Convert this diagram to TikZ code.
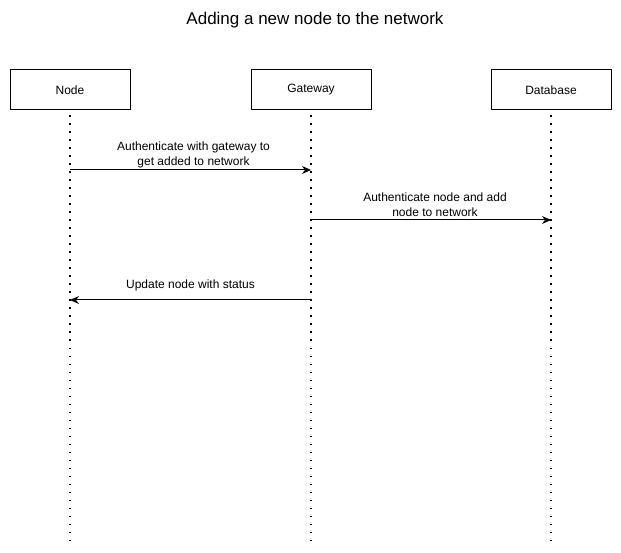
\documentclass[tikz,border=0pt]{standalone}
\usepackage{fontspec}
\setmainfont{Liberation Sans}
\usetikzlibrary{arrows.meta}
\begin{document}
\begin{tikzpicture}[x=1pt,y=-1pt,
  actor/.style={draw,line width=1pt,minimum width=120pt,minimum height=40pt,inner sep=0pt,font=\fontsize{12}{14}\selectfont},
  lifeline/.style={line width=1.6pt,dash pattern=on 1.6pt off 6.4pt},
  msg/.style={line width=1pt,-{Stealth[length=9pt,width=8pt,inset=3pt]}},
  msglabel/.style={font=\fontsize{12}{15}\selectfont,align=center,inner sep=0pt}]
\useasboundingbox (0,0) rectangle (621,553);
\node[font=\fontsize{17}{20}\selectfont] (title) at (315,20) {Adding a new node to the network};
\node[actor] (n) at (70,90) {Node};
\node[actor] (g) at (311,90) {Gateway};
\node[actor] (d) at (551,90) {Database};
\coordinate (ne) at (70,541);
\coordinate (ge) at (311,541);
\coordinate (de) at (551,541);
\draw[lifeline] ([yshift=-5pt]n.south) -- (ne);
\draw[lifeline] ([yshift=-5pt]g.south) -- (ge);
\draw[lifeline] ([yshift=-5pt]d.south) -- (de);
\coordinate (m1a) at (70,170);
\coordinate (m1b) at (311,170);
\coordinate (m2a) at (311,220);
\coordinate (m2b) at (551,220);
\coordinate (m3a) at (311,300);
\coordinate (m3b) at (70,300);
\draw[msg] (m1a) -- (m1b);
\draw[msg] (m2a) -- (m2b);
\draw[msg] (m3a) -- (m3b);
\node[msglabel] (l1) at (193.5,154.5) {Authenticate with gateway to\\get added to network};
\node[msglabel] (l2) at (435,205) {Authenticate node and add\\node to network};
\node[msglabel] (l3) at (190.5,285) {Update node with status};
\end{tikzpicture}
\end{document}
